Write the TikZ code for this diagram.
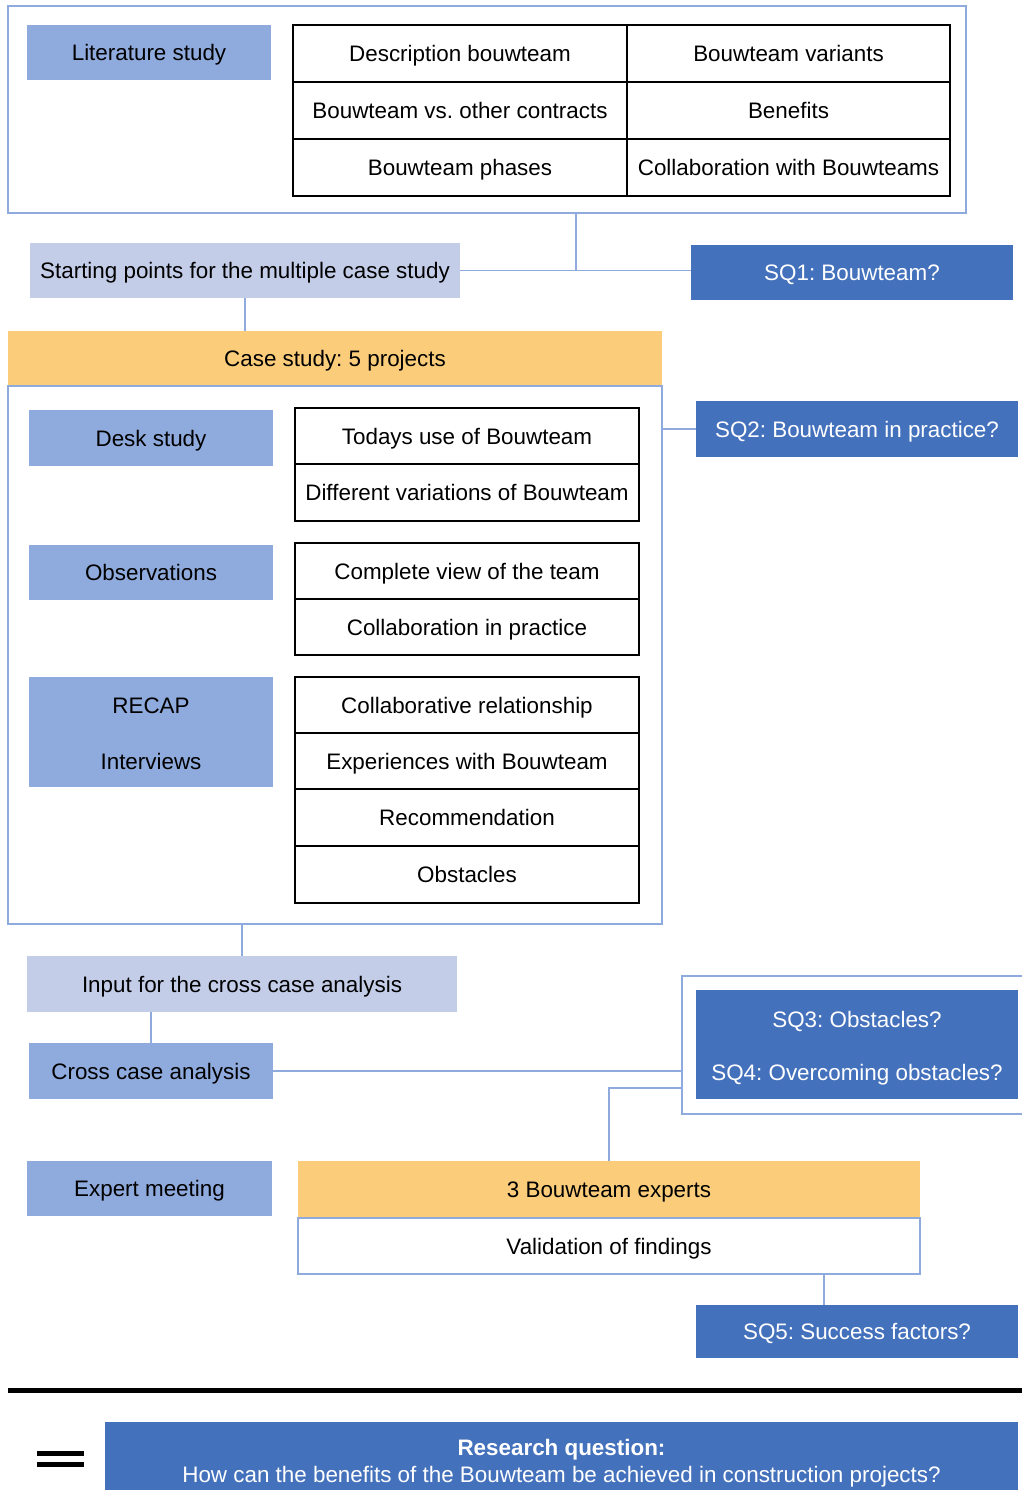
\documentclass[tikz,border=0pt]{standalone}
\usepackage{fontspec}
\setmainfont{Liberation Sans}
\begin{document}
\frenchspacing
\definecolor{midblue}{HTML}{8FAADC}
\definecolor{paleblue}{HTML}{C3CDE8}
\definecolor{darkblue}{HTML}{4471BC}
\definecolor{gold}{HTML}{FBCD7B}
% box: style, name, x1, y1, x2, y2, text (pixel-like units, y downward)
\newcommand\bx[7]{\node[#1,minimum width={#5-#3},minimum height={#6-#4}] (#2) at ({(#3+#5)/2},{(#4+#6)/2}) {#7};}
% strut that lowers a multi-line text block by pushing its first line down
\newcommand\topstrut[1]{\rule{0pt}{#1}}
\begin{tikzpicture}[x=1pt,y=-1pt,
  every node/.style={inner sep=0pt,outer sep=0pt,font=\fontsize{22.4}{26}\selectfont},
  one/.style={text height=16pt,text depth=0pt},
  frame/.style={draw=midblue,line width=1.6pt},
  method/.style={fill=midblue,one},
  pale/.style={fill=paleblue,one},
  sq/.style={fill=darkblue,text=white,one},
  head/.style={fill=gold,one},
  cell/.style={draw=black,line width=1.8pt,one},
  multi/.style={align=center,text height=,text depth=},
  link/.style={draw=midblue,line width=1.6pt}]
\useasboundingbox (0,0) rectangle (1021,1490);

% ---- Literature study ----
\bx{frame}{litframe}{8}{6}{966}{213}{}
\bx{method}{lit}{27}{25}{271}{80}{Literature study}
\bx{cell}{l11}{293}{25}{627}{82}{Description bouwteam}
\bx{cell}{l12}{627}{25}{950}{82}{Bouwteam variants}
\bx{cell}{l21}{293}{82}{627}{139}{Bouwteam vs. other contracts}
\bx{cell}{l22}{627}{82}{950}{139}{Benefits}
\bx{cell}{l31}{293}{139}{627}{196}{Bouwteam phases}
\bx{cell}{l32}{627}{139}{950}{196}{Collaboration with Bouwteams}

\bx{pale}{start}{30}{243}{460}{298}{Starting points for the multiple case study}
\bx{sq}{sq1}{691}{245}{1013}{300}{SQ1: Bouwteam?}

% ---- Case study ----
\bx{head}{casehead}{8}{331}{662}{386}{Case study: 5 projects}
\bx{frame}{caseframe}{8}{386}{662}{924}{}
\bx{sq}{sq2}{696}{401}{1018}{457}{SQ2: Bouwteam in practice?}

\bx{method}{desk}{29}{410}{273}{466}{Desk study}
\bx{cell}{d1}{295}{408}{639}{464}{Todays use of Bouwteam}
\bx{cell}{d2}{295}{464}{639}{521}{Different variations of Bouwteam}

\bx{method}{obs}{29}{545}{273}{600}{Observations}
\bx{cell}{o1}{295}{543}{639}{599}{Complete view of the team}
\bx{cell}{o2}{295}{599}{639}{655}{Collaboration in practice}

\bx{method,multi,font=\fontsize{22.4}{56}\selectfont}{recap}{29}{677}{273}{787}{\topstrut{20pt}RECAP\\Interviews}
\bx{cell}{r1}{295}{677}{639}{733}{Collaborative relationship}
\bx{cell}{r2}{295}{733}{639}{789}{Experiences with Bouwteam}
\bx{cell}{r3}{295}{789}{639}{846}{Recommendation}
\bx{cell}{r4}{295}{846}{639}{903}{Obstacles}

% ---- Cross case analysis ----
\bx{pale}{input}{27}{956}{457}{1012}{Input for the cross case analysis}
\bx{method}{cross}{29}{1043}{273}{1099}{Cross case analysis}
\bx{frame}{sqframe}{682}{976}{1030}{1114}{}
\bx{sq,multi,font=\fontsize{22.4}{53}\selectfont}{sq34}{696}{990}{1018}{1099}{\topstrut{24.3pt}SQ3: Obstacles?\\SQ4: Overcoming obstacles?}

% ---- Expert meeting ----
\bx{method}{expert}{27}{1161}{272}{1216}{Expert meeting}
\bx{head}{experts}{298}{1161}{920}{1217}{3 Bouwteam experts}
\bx{frame,fill=white,one}{valid}{298}{1218}{920}{1274}{Validation of findings}
\bx{sq}{sq5}{696}{1305}{1018}{1358}{SQ5: Success factors?}

% ---- Connectors ----
\coordinate (j1) at (576,270);
\draw[link] (litframe.south -| j1) -- (j1);
\draw[link] (start.east) -- (sq1.west |- start.east);
\draw[link] (start.south) -- (casehead.north -| start.south);
\draw[link] (caseframe.east |- sq2.west) -- (sq2.west);
\draw[link] (caseframe.south -| input.north) -- (input.north);
\draw[link] (input.south -| cross.north) -- (cross.north);
\draw[link] (cross.east) -- (sqframe.west |- cross.east);
\draw[link] ([yshift=-43pt]sqframe.west) -| (experts.north);
\draw[link] ([xshift=-33pt]sq5.north |- valid.south) -- ([xshift=-33pt]sq5.north);

% ---- Research question ----
\coordinate (rl) at (8,1390.5);
\coordinate (rr) at (1030,1390.5);
\draw[line width=5pt] (rl) -- (rr);
\node[fill=black,minimum width=47,minimum height=5.3] (eq1) at (60.5,1453.3) {};
\node[fill=black,minimum width=47,minimum height=5.3] (eq2) at (60.5,1464.7) {};
\bx{sq,multi,font=\fontsize{22.4}{27}\selectfont}{rq}{105}{1422}{1018}{1499}{\topstrut{22.3pt}\textbf{Research question:}\\How can the benefits of the Bouwteam be achieved in construction projects?}
\end{tikzpicture}
\end{document}
